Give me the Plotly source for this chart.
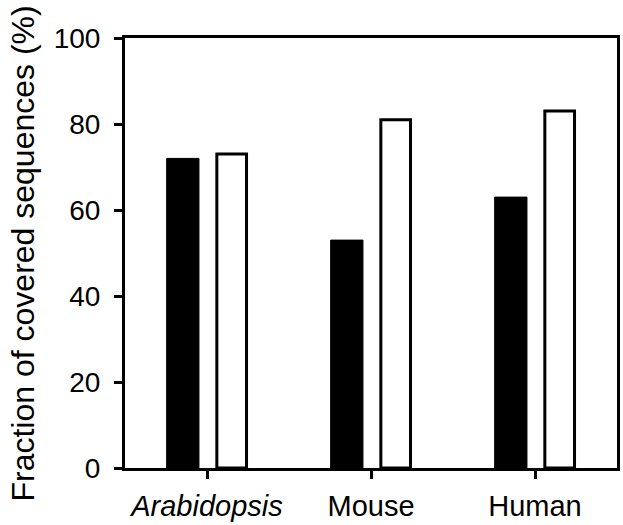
import plotly.graph_objects as go

categories = ["<i>Arabidopsis</i>", "Mouse", "Human"]
black_values = [72, 53, 63]
white_values = [73, 81, 83]
y_ticks = [0, 20, 40, 60, 80, 100]

fig = go.Figure()
fig.add_trace(go.Bar(
    x=[0, 1, 2], y=black_values, width=0.197, offset=-0.246,
    marker=dict(color="black", line=dict(color="black", width=1)),
    showlegend=False))
fig.add_trace(go.Bar(
    x=[0, 1, 2], y=white_values, width=0.181, offset=0.06,
    marker=dict(color="white", line=dict(color="black", width=3)),
    showlegend=False))

font = "Liberation Sans, Arial, sans-serif"
fig.update_layout(
    width=623, height=525,
    margin=dict(l=125, r=3, t=38, b=53),
    paper_bgcolor="white", plot_bgcolor="white",
    font=dict(family=font, color="black"),
    xaxis=dict(range=[-0.5, 2.5], tickvals=[0, 1, 2], ticktext=categories,
               showline=True, linecolor="black", linewidth=3, mirror=True,
               ticks="outside", ticklen=8, tickwidth=3, tickcolor="black",
               ticklabelstandoff=2,
               tickfont=dict(size=29, family=font), showgrid=False, zeroline=False),
    yaxis=dict(range=[0, 100], tickvals=y_ticks,
               showline=True, linecolor="black", linewidth=3, mirror=True,
               ticks="outside", ticklen=8, tickwidth=3, tickcolor="black",
               ticklabelstandoff=8,
               tickfont=dict(size=28, family=font), showgrid=False, zeroline=False),
    annotations=[dict(text="Fraction of covered sequences (%)", textangle=-90,
                      xref="paper", yref="paper", x=-0.208, y=0.498,
                      xanchor="center", yanchor="middle", showarrow=False,
                      font=dict(size=32, family=font, color="black"))],
)

fig.write_html("out.html", config={"displayModeBar": False},
               post_script="document.body.style.margin='0px';")
